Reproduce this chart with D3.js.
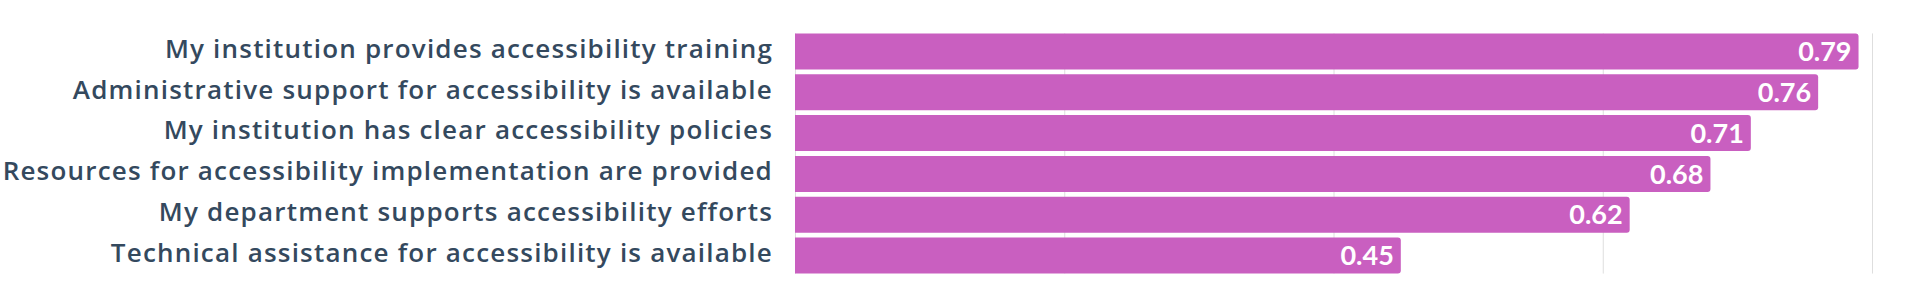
<!DOCTYPE html>
<html>
<head>
<meta charset="utf-8">
<script src="https://cdn.jsdelivr.net/npm/d3@7"></script>
<style>
  html, body { margin: 0; padding: 0; background: #ffffff; }
  svg { display: block; }
</style>
</head>
<body>
<svg id="chart" width="1920" height="282"></svg>
<script>
const categories = [
  "My institution provides accessibility training",
  "Administrative support for accessibility is available",
  "My institution has clear accessibility policies",
  "Resources for accessibility implementation are provided",
  "My department supports accessibility efforts",
  "Technical assistance for accessibility is available"
];
const values = [0.79, 0.76, 0.71, 0.68, 0.62, 0.45];
const xTicks = [0, 0.2, 0.4, 0.6, 0.8];
const valueLabels = ["0.79", "0.76", "0.71", "0.68", "0.62", "0.45"];

const W = 1920, H = 282;
const margin = { left: 795, right: 48, top: 31, bottom: 6 };

const svg = d3.select("#chart");

const x = d3.scaleLinear().domain([0, 0.8]).range([margin.left, W - margin.right]);
const y = d3.scaleBand().domain(categories)
  .range([margin.top, H - margin.bottom])
  .paddingInner(0.12).paddingOuter(0.06);

const gridTop = y(categories[0]);
const gridBottom = y(categories[categories.length - 1]) + y.bandwidth();

// gridlines
const grid = svg.append("g")
  .attr("transform", `translate(0,${gridBottom})`)
  .call(d3.axisBottom(x).tickValues(xTicks).tickSize(-(gridBottom - gridTop)).tickFormat(""));
grid.select(".domain").remove();
grid.selectAll(".tick line").attr("stroke", "#dedede").attr("stroke-width", 1);

// bars (right corners rounded)
const r = 3;
svg.append("g").selectAll("path")
  .data(values)
  .join("path")
  .attr("fill", "#c95fc0")
  .attr("d", (v, i) => {
    const x0 = x(0), x1 = x(v), y0 = y(categories[i]), h = y.bandwidth();
    return `M${x0},${y0}H${x1 - r}Q${x1},${y0} ${x1},${y0 + r}V${y0 + h - r}Q${x1},${y0 + h} ${x1 - r},${y0 + h}H${x0}Z`;
  });

// value labels
svg.append("g").selectAll("text")
  .data(values)
  .join("text")
  .attr("x", v => x(v) - 7)
  .attr("y", (v, i) => y(categories[i]) + y.bandwidth() / 2)
  .attr("dy", "0.36em")
  .attr("text-anchor", "end")
  .attr("fill", "#ffffff")
  .style("font-family", "Lato, sans-serif")
  .style("font-weight", "700")
  .style("font-size", "27px")
  .text((v, i) => valueLabels[i]);

// category axis
const yAxis = svg.append("g")
  .attr("transform", `translate(${margin.left},0)`)
  .call(d3.axisLeft(y).tickSize(0).tickPadding(22));
yAxis.select(".domain").remove();
yAxis.selectAll("text")
  .attr("fill", "#34495e")
  .attr("dy", "0.24em")
  .style("font-family", "'Open Sans', sans-serif")
  .style("font-weight", "600")
  .style("font-size", "26px")
  .style("letter-spacing", "1.2px");
</script>
</body>
</html>
